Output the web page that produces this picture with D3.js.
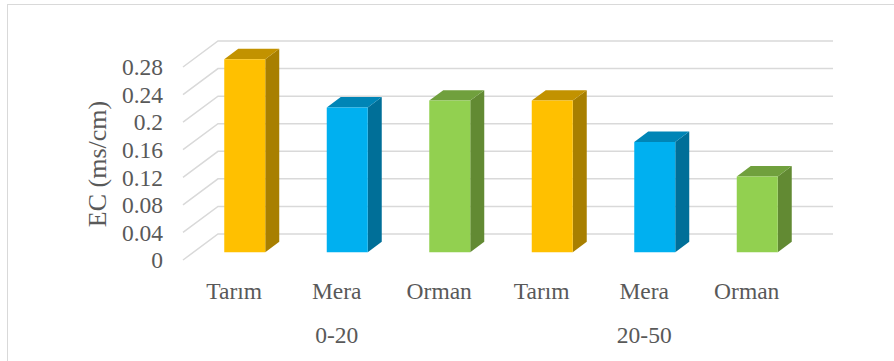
<!DOCTYPE html>
<html>
<head>
<meta charset="utf-8">
<script src="https://cdn.jsdelivr.net/npm/d3@7"></script>
<style>
  body { margin: 0; background: #fff; }
</style>
</head>
<body>
<div id="chart"></div>
<script>
const categories = ["Tarım", "Mera", "Orman", "Tarım", "Mera", "Orman"];
const groups = ["0-20", "20-50"];
const values = [0.28, 0.21, 0.22, 0.22, 0.16, 0.11];
const yTicks = [0, 0.04, 0.08, 0.12, 0.16, 0.2, 0.24, 0.28];

// face colours per land use: front, side, top
const palette = {
    "Tarım": { front: "#FFC000", side: "#A87F00", top: "#C29200" },
    "Mera": { front: "#00B0F0", side: "#006F98", top: "#0085B6" },
    "Orman": { front: "#92D050", side: "#628A33", top: "#70A03D" }
};

const width = 894, height = 361;
const depthX = 35, depthY = -26;   // full floor depth offset
const barNear = 0.3, barFar = 0.7;  // bar depth inside the floor
const serif = "'Liberation Serif', 'Times New Roman', serif";

const svg = d3.select("#chart")
    .append("svg")
    .attr("width", width)
    .attr("height", height)
    .style("font-family", serif);

// outer frame
svg.append("rect")
    .attr("x", 7.5).attr("y", 4.5)
    .attr("width", 900).attr("height", 400)
    .attr("fill", "none")
    .attr("stroke", "#d9d9d9");

const x = d3.scaleBand()
    .domain(d3.range(categories.length))
    .range([183, 798]);

const y = d3.scaleLinear()
    .domain([0, 0.28])
    .range([260, 67]);

// gridlines: left diagonal + back wall
svg.append("g")
    .selectAll("path")
    .data(yTicks)
    .enter()
    .append("path")
    .attr("d", d => {
        const x0 = x.range()[0], x1 = x.range()[1];
        return `M${x0},${y(d)}L${x0 + depthX},${y(d) + depthY}L${x1 + depthX},${y(d) + depthY}`;
    })
    .attr("fill", "none")
    .attr("stroke", "#d9d9d9")
    .attr("stroke-width", 1.5);

function label(sel) {
    return sel.attr("font-family", serif).attr("fill", "#595959");
}

// y tick labels
svg.append("g")
    .selectAll("text")
    .data(yTicks)
    .enter()
    .append("text")
    .call(label)
    .attr("x", 163)
    .attr("y", d => y(d))
    .attr("dy", "0.35em")
    .attr("text-anchor", "end")
    .attr("font-size", 23.5)
    .text(d => d3.format("~g")(d));

// axis title
svg.append("text")
    .call(label)
    .attr("transform", "translate(106,164) rotate(-90)")
    .attr("text-anchor", "middle")
    .attr("font-size", 26)
    .text("EC (ms/cm)");

// bars
const barW = x.bandwidth() * 0.4;
const bars = svg.append("g")
    .selectAll("g")
    .data(values.map((v, i) => ({ v, i, cat: categories[i] })))
    .enter()
    .append("g");

function pt(px, py, f) {
    return [px + f * depthX, py + f * depthY];
}

bars.each(function (d) {
    const g = d3.select(this);
    const cx = x(d.i) + x.bandwidth() / 2;
    const xl = cx - barW / 2, xr = cx + barW / 2;
    const yt = y(d.v), yb = y(0);
    const c = palette[d.cat];
    const line = p => "M" + p.map(q => q.join(",")).join("L") + "Z";

    // side face
    g.append("path")
        .attr("d", line([pt(xr, yt, barNear), pt(xr, yt, barFar), pt(xr, yb, barFar), pt(xr, yb, barNear)]))
        .attr("fill", c.side);
    // top face
    g.append("path")
        .attr("d", line([pt(xl, yt, barNear), pt(xr, yt, barNear), pt(xr, yt, barFar), pt(xl, yt, barFar)]))
        .attr("fill", c.top);
    // front face
    g.append("path")
        .attr("d", line([pt(xl, yt, barNear), pt(xr, yt, barNear), pt(xr, yb, barNear), pt(xl, yb, barNear)]))
        .attr("fill", c.front);
});

// category labels
svg.append("g")
    .selectAll("text")
    .data(categories)
    .enter()
    .append("text")
    .call(label)
    .attr("x", (d, i) => x(i) + x.bandwidth() / 2)
    .attr("y", 291)
    .attr("dy", "0.35em")
    .attr("text-anchor", "middle")
    .attr("font-size", 23.5)
    .text(d => d);

// group labels
svg.append("g")
    .selectAll("text")
    .data(groups)
    .enter()
    .append("text")
    .call(label)
    .attr("x", (d, i) => x(i * 3 + 1) + x.bandwidth() / 2)
    .attr("y", 335)
    .attr("dy", "0.35em")
    .attr("text-anchor", "middle")
    .attr("font-size", 23.5)
    .text(d => d);
</script>
</body>
</html>
